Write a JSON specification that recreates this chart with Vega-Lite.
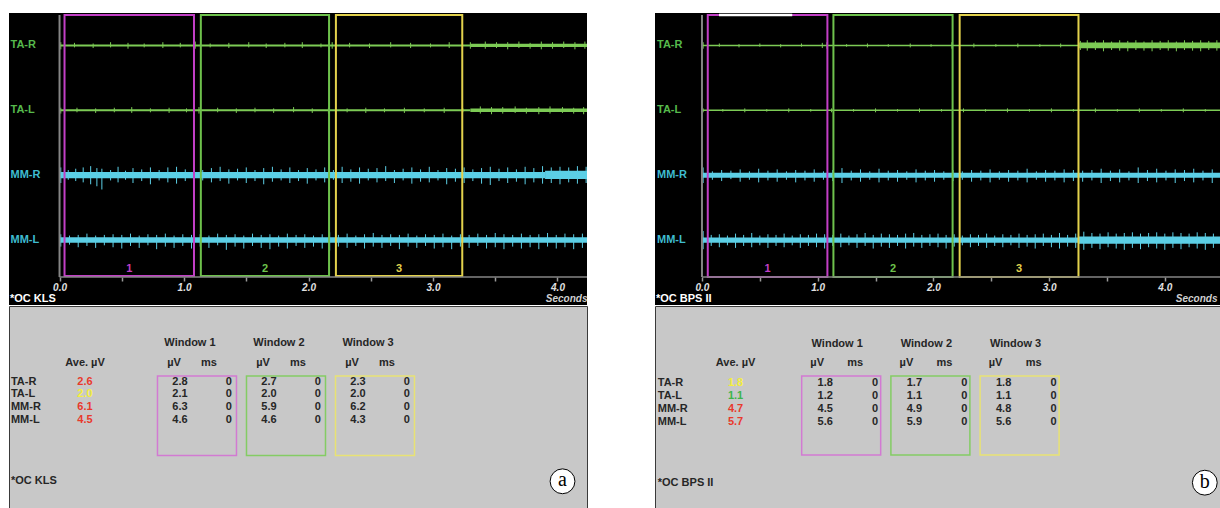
{
"$schema": "https://vega.github.io/schema/vega-lite/v6.json",
"background": "white",
"padding": {"left": 8, "top": 13, "right": 0, "bottom": 0},
"config": {"view": {"stroke": null}, "font": "Liberation Sans"},
"datasets": {
"panels": [{"p": "a", "subject": "*OC KLS"}, {"p": "b", "subject": "*OC BPS II"}],
"win": [
{"p": "a", "w": 1, "name": "Window 1", "t0": 0.04, "t1": 1.08},
{"p": "a", "w": 2, "name": "Window 2", "t0": 1.135, "t1": 2.165},
{"p": "a", "w": 3, "name": "Window 3", "t0": 2.22, "t1": 3.235},
{"p": "b", "w": 1, "name": "Window 1", "t0": 0.05, "t1": 1.084},
{"p": "b", "w": 2, "name": "Window 2", "t0": 1.136, "t1": 2.166},
{"p": "b", "w": 3, "name": "Window 3", "t0": 2.227, "t1": 3.254}],
"env": [
{"p": "a", "c": "TA-R", "t0": 0, "t1": 3.3, "lo": 3.985, "hi": 4.015},
{"p": "a", "c": "TA-R", "t0": 3.3, "t1": 4.237, "lo": 3.975, "hi": 4.027},
{"p": "a", "c": "TA-L", "t0": 0, "t1": 3.3, "lo": 2.985, "hi": 3.015},
{"p": "a", "c": "TA-L", "t0": 3.3, "t1": 4.237, "lo": 2.975, "hi": 3.027},
{"p": "a", "c": "MM-R", "t0": 0, "t1": 3.9, "lo": 1.952, "hi": 2.05},
{"p": "a", "c": "MM-R", "t0": 3.9, "t1": 4.237, "lo": 1.94, "hi": 2.07},
{"p": "a", "c": "MM-L", "t0": 0, "t1": 4.237, "lo": 0.958, "hi": 1.045},
{"p": "b", "c": "TA-R", "t0": 0, "t1": 3.26, "lo": 3.988, "hi": 4.012},
{"p": "b", "c": "TA-R", "t0": 3.26, "t1": 4.503, "lo": 3.955, "hi": 4.045},
{"p": "b", "c": "TA-L", "t0": 0, "t1": 4.503, "lo": 2.988, "hi": 3.012},
{"p": "b", "c": "MM-R", "t0": 0, "t1": 4.503, "lo": 1.96, "hi": 2.04},
{"p": "b", "c": "MM-L", "t0": 0, "t1": 3.25, "lo": 0.958, "hi": 1.042},
{"p": "b", "c": "MM-L", "t0": 3.25, "t1": 4.503, "lo": 0.945, "hi": 1.055}],
"sa": [
{"c":"TA-R","t":0.01,"lo":3.94,"hi":4.05},{"c":"TA-R","t":0.12,"lo":3.97,"hi":4.04},{"c":"TA-R","t":0.27,"lo":3.96,"hi":4.03},{"c":"TA-R","t":0.41,"lo":3.97,"hi":4.05},{"c":"TA-R","t":0.55,"lo":3.95,"hi":4.04},{"c":"TA-R","t":0.68,"lo":3.97,"hi":4.03},{"c":"TA-R","t":0.83,"lo":3.96,"hi":4.05},{"c":"TA-R","t":0.97,"lo":3.97,"hi":4.04},{"c":"TA-R","t":1.09,"lo":3.95,"hi":4.06},{"c":"TA-R","t":1.21,"lo":3.97,"hi":4.03},{"c":"TA-R","t":1.36,"lo":3.96,"hi":4.04},{"c":"TA-R","t":1.52,"lo":3.97,"hi":4.05},{"c":"TA-R","t":1.66,"lo":3.96,"hi":4.03},{"c":"TA-R","t":1.81,"lo":3.97,"hi":4.04},{"c":"TA-R","t":1.95,"lo":3.96,"hi":4.05},{"c":"TA-R","t":2.10,"lo":3.97,"hi":4.03},{"c":"TA-R","t":2.19,"lo":3.95,"hi":4.05},{"c":"TA-R","t":2.33,"lo":3.97,"hi":4.04},{"c":"TA-R","t":2.49,"lo":3.96,"hi":4.03},{"c":"TA-R","t":2.66,"lo":3.97,"hi":4.05},{"c":"TA-R","t":2.82,"lo":3.96,"hi":4.04},{"c":"TA-R","t":2.98,"lo":3.97,"hi":4.03},{"c":"TA-R","t":3.13,"lo":3.96,"hi":4.05},{"c":"TA-R","t":3.30,"lo":3.95,"hi":4.05},{"c":"TA-R","t":3.42,"lo":3.95,"hi":4.06},{"c":"TA-R","t":3.51,"lo":3.96,"hi":4.05},{"c":"TA-R","t":3.60,"lo":3.94,"hi":4.05},{"c":"TA-R","t":3.69,"lo":3.96,"hi":4.06},{"c":"TA-R","t":3.78,"lo":3.95,"hi":4.04},{"c":"TA-R","t":3.87,"lo":3.94,"hi":4.06},{"c":"TA-R","t":3.96,"lo":3.95,"hi":4.05},{"c":"TA-R","t":4.05,"lo":3.96,"hi":4.06},{"c":"TA-R","t":4.14,"lo":3.94,"hi":4.05},{"c":"TA-R","t":4.22,"lo":3.95,"hi":4.06},
{"c":"TA-L","t":0.01,"lo":2.95,"hi":3.04},{"c":"TA-L","t":0.14,"lo":2.97,"hi":3.04},{"c":"TA-L","t":0.29,"lo":2.96,"hi":3.03},{"c":"TA-L","t":0.44,"lo":2.97,"hi":3.04},{"c":"TA-L","t":0.58,"lo":2.96,"hi":3.05},{"c":"TA-L","t":0.73,"lo":2.97,"hi":3.03},{"c":"TA-L","t":0.88,"lo":2.96,"hi":3.04},{"c":"TA-L","t":1.02,"lo":2.97,"hi":3.03},{"c":"TA-L","t":1.12,"lo":2.95,"hi":3.05},{"c":"TA-L","t":1.27,"lo":2.97,"hi":3.04},{"c":"TA-L","t":1.42,"lo":2.96,"hi":3.03},{"c":"TA-L","t":1.57,"lo":2.97,"hi":3.04},{"c":"TA-L","t":1.72,"lo":2.96,"hi":3.03},{"c":"TA-L","t":1.88,"lo":2.97,"hi":3.05},{"c":"TA-L","t":2.03,"lo":2.96,"hi":3.03},{"c":"TA-L","t":2.16,"lo":2.95,"hi":3.04},{"c":"TA-L","t":2.31,"lo":2.97,"hi":3.03},{"c":"TA-L","t":2.46,"lo":2.96,"hi":3.04},{"c":"TA-L","t":2.61,"lo":2.97,"hi":3.03},{"c":"TA-L","t":2.77,"lo":2.96,"hi":3.04},{"c":"TA-L","t":2.93,"lo":2.97,"hi":3.03},{"c":"TA-L","t":3.09,"lo":2.96,"hi":3.04},{"c":"TA-L","t":3.24,"lo":2.97,"hi":3.03},{"c":"TA-L","t":3.38,"lo":2.95,"hi":3.06},{"c":"TA-L","t":3.47,"lo":2.94,"hi":3.05},{"c":"TA-L","t":3.56,"lo":2.95,"hi":3.05},{"c":"TA-L","t":3.66,"lo":2.96,"hi":3.06},{"c":"TA-L","t":3.75,"lo":2.95,"hi":3.04},{"c":"TA-L","t":3.85,"lo":2.94,"hi":3.05},{"c":"TA-L","t":3.94,"lo":2.95,"hi":3.06},{"c":"TA-L","t":4.04,"lo":2.96,"hi":3.05},{"c":"TA-L","t":4.13,"lo":2.95,"hi":3.04},{"c":"TA-L","t":4.21,"lo":2.94,"hi":3.05},
{"c":"MM-R","t":0.01,"lo":1.88,"hi":2.12},{"c":"MM-R","t":0.07,"lo":1.93,"hi":2.08},{"c":"MM-R","t":0.13,"lo":1.91,"hi":2.10},{"c":"MM-R","t":0.19,"lo":1.89,"hi":2.12},{"c":"MM-R","t":0.25,"lo":1.86,"hi":2.14},{"c":"MM-R","t":0.30,"lo":1.83,"hi":2.11},{"c":"MM-R","t":0.34,"lo":1.78,"hi":2.10},{"c":"MM-R","t":0.41,"lo":1.92,"hi":2.08},{"c":"MM-R","t":0.47,"lo":1.89,"hi":2.13},{"c":"MM-R","t":0.53,"lo":1.93,"hi":2.07},{"c":"MM-R","t":0.59,"lo":1.88,"hi":2.11},{"c":"MM-R","t":0.66,"lo":1.91,"hi":2.09},{"c":"MM-R","t":0.73,"lo":1.86,"hi":2.12},{"c":"MM-R","t":0.80,"lo":1.92,"hi":2.08},{"c":"MM-R","t":0.87,"lo":1.89,"hi":2.12},{"c":"MM-R","t":0.94,"lo":1.87,"hi":2.13},{"c":"MM-R","t":1.01,"lo":1.91,"hi":2.09},{"c":"MM-R","t":1.08,"lo":1.88,"hi":2.12},{"c":"MM-R","t":1.15,"lo":1.92,"hi":2.08},{"c":"MM-R","t":1.22,"lo":1.89,"hi":2.11},{"c":"MM-R","t":1.29,"lo":1.91,"hi":2.13},{"c":"MM-R","t":1.36,"lo":1.87,"hi":2.09},{"c":"MM-R","t":1.43,"lo":1.92,"hi":2.10},{"c":"MM-R","t":1.50,"lo":1.88,"hi":2.12},{"c":"MM-R","t":1.57,"lo":1.91,"hi":2.08},{"c":"MM-R","t":1.64,"lo":1.86,"hi":2.11},{"c":"MM-R","t":1.71,"lo":1.90,"hi":2.13},{"c":"MM-R","t":1.78,"lo":1.92,"hi":2.09},{"c":"MM-R","t":1.85,"lo":1.88,"hi":2.12},{"c":"MM-R","t":1.92,"lo":1.91,"hi":2.08},{"c":"MM-R","t":1.99,"lo":1.87,"hi":2.11},{"c":"MM-R","t":2.06,"lo":1.92,"hi":2.09},{"c":"MM-R","t":2.13,"lo":1.89,"hi":2.12},{"c":"MM-R","t":2.20,"lo":1.93,"hi":2.08},{"c":"MM-R","t":2.27,"lo":1.88,"hi":2.13},{"c":"MM-R","t":2.34,"lo":1.90,"hi":2.09},{"c":"MM-R","t":2.41,"lo":1.87,"hi":2.12},{"c":"MM-R","t":2.48,"lo":1.92,"hi":2.10},{"c":"MM-R","t":2.55,"lo":1.89,"hi":2.11},{"c":"MM-R","t":2.62,"lo":1.91,"hi":2.14},{"c":"MM-R","t":2.69,"lo":1.88,"hi":2.08},{"c":"MM-R","t":2.76,"lo":1.92,"hi":2.10},{"c":"MM-R","t":2.83,"lo":1.87,"hi":2.12},{"c":"MM-R","t":2.90,"lo":1.90,"hi":2.09},{"c":"MM-R","t":2.97,"lo":1.89,"hi":2.13},{"c":"MM-R","t":3.04,"lo":1.92,"hi":2.08},{"c":"MM-R","t":3.11,"lo":1.86,"hi":2.11},{"c":"MM-R","t":3.18,"lo":1.90,"hi":2.10},{"c":"MM-R","t":3.25,"lo":1.88,"hi":2.12},{"c":"MM-R","t":3.32,"lo":1.91,"hi":2.09},{"c":"MM-R","t":3.39,"lo":1.87,"hi":2.11},{"c":"MM-R","t":3.46,"lo":1.85,"hi":2.13},{"c":"MM-R","t":3.53,"lo":1.91,"hi":2.10},{"c":"MM-R","t":3.60,"lo":1.88,"hi":2.12},{"c":"MM-R","t":3.67,"lo":1.90,"hi":2.09},{"c":"MM-R","t":3.74,"lo":1.86,"hi":2.13},{"c":"MM-R","t":3.81,"lo":1.89,"hi":2.11},{"c":"MM-R","t":3.88,"lo":1.87,"hi":2.14},{"c":"MM-R","t":3.95,"lo":1.88,"hi":2.12},{"c":"MM-R","t":4.02,"lo":1.86,"hi":2.13},{"c":"MM-R","t":4.09,"lo":1.89,"hi":2.12},{"c":"MM-R","t":4.16,"lo":1.87,"hi":2.14},{"c":"MM-R","t":4.23,"lo":1.88,"hi":2.13},
{"c":"MM-L","t":0.01,"lo":0.90,"hi":1.09},{"c":"MM-L","t":0.08,"lo":0.93,"hi":1.07},{"c":"MM-L","t":0.15,"lo":0.89,"hi":1.08},{"c":"MM-L","t":0.22,"lo":0.91,"hi":1.10},{"c":"MM-L","t":0.29,"lo":0.88,"hi":1.07},{"c":"MM-L","t":0.36,"lo":0.92,"hi":1.08},{"c":"MM-L","t":0.43,"lo":0.89,"hi":1.09},{"c":"MM-L","t":0.50,"lo":0.87,"hi":1.08},{"c":"MM-L","t":0.57,"lo":0.91,"hi":1.10},{"c":"MM-L","t":0.64,"lo":0.88,"hi":1.07},{"c":"MM-L","t":0.71,"lo":0.92,"hi":1.09},{"c":"MM-L","t":0.78,"lo":0.86,"hi":1.08},{"c":"MM-L","t":0.85,"lo":0.90,"hi":1.10},{"c":"MM-L","t":0.92,"lo":0.88,"hi":1.07},{"c":"MM-L","t":0.99,"lo":0.91,"hi":1.09},{"c":"MM-L","t":1.06,"lo":0.87,"hi":1.08},{"c":"MM-L","t":1.13,"lo":0.90,"hi":1.09},{"c":"MM-L","t":1.20,"lo":0.88,"hi":1.07},{"c":"MM-L","t":1.27,"lo":0.92,"hi":1.10},{"c":"MM-L","t":1.34,"lo":0.85,"hi":1.08},{"c":"MM-L","t":1.41,"lo":0.90,"hi":1.09},{"c":"MM-L","t":1.48,"lo":0.87,"hi":1.07},{"c":"MM-L","t":1.55,"lo":0.91,"hi":1.10},{"c":"MM-L","t":1.62,"lo":0.88,"hi":1.08},{"c":"MM-L","t":1.69,"lo":0.86,"hi":1.09},{"c":"MM-L","t":1.76,"lo":0.90,"hi":1.07},{"c":"MM-L","t":1.83,"lo":0.87,"hi":1.10},{"c":"MM-L","t":1.90,"lo":0.91,"hi":1.08},{"c":"MM-L","t":1.97,"lo":0.88,"hi":1.09},{"c":"MM-L","t":2.04,"lo":0.90,"hi":1.07},{"c":"MM-L","t":2.11,"lo":0.87,"hi":1.09},{"c":"MM-L","t":2.17,"lo":0.84,"hi":1.12},{"c":"MM-L","t":2.24,"lo":0.90,"hi":1.08},{"c":"MM-L","t":2.31,"lo":0.88,"hi":1.10},{"c":"MM-L","t":2.38,"lo":0.91,"hi":1.07},{"c":"MM-L","t":2.45,"lo":0.87,"hi":1.09},{"c":"MM-L","t":2.52,"lo":0.90,"hi":1.11},{"c":"MM-L","t":2.59,"lo":0.88,"hi":1.08},{"c":"MM-L","t":2.66,"lo":0.91,"hi":1.09},{"c":"MM-L","t":2.73,"lo":0.86,"hi":1.08},{"c":"MM-L","t":2.80,"lo":0.90,"hi":1.10},{"c":"MM-L","t":2.87,"lo":0.88,"hi":1.07},{"c":"MM-L","t":2.94,"lo":0.91,"hi":1.09},{"c":"MM-L","t":3.01,"lo":0.87,"hi":1.08},{"c":"MM-L","t":3.08,"lo":0.89,"hi":1.10},{"c":"MM-L","t":3.15,"lo":0.86,"hi":1.07},{"c":"MM-L","t":3.22,"lo":0.90,"hi":1.09},{"c":"MM-L","t":3.29,"lo":0.88,"hi":1.08},{"c":"MM-L","t":3.36,"lo":0.91,"hi":1.10},{"c":"MM-L","t":3.43,"lo":0.87,"hi":1.08},{"c":"MM-L","t":3.50,"lo":0.89,"hi":1.11},{"c":"MM-L","t":3.57,"lo":0.86,"hi":1.09},{"c":"MM-L","t":3.64,"lo":0.90,"hi":1.08},{"c":"MM-L","t":3.71,"lo":0.87,"hi":1.10},{"c":"MM-L","t":3.78,"lo":0.89,"hi":1.08},{"c":"MM-L","t":3.85,"lo":0.86,"hi":1.09},{"c":"MM-L","t":3.92,"lo":0.90,"hi":1.11},{"c":"MM-L","t":3.99,"lo":0.87,"hi":1.08},{"c":"MM-L","t":4.06,"lo":0.89,"hi":1.10},{"c":"MM-L","t":4.13,"lo":0.86,"hi":1.09},{"c":"MM-L","t":4.20,"lo":0.88,"hi":1.10}],
"sb": [
{"c":"TA-R","t":0.01,"lo":3.95,"hi":4.05},{"c":"TA-R","t":0.15,"lo":3.98,"hi":4.03},{"c":"TA-R","t":0.32,"lo":3.97,"hi":4.02},{"c":"TA-R","t":0.50,"lo":3.98,"hi":4.03},{"c":"TA-R","t":0.68,"lo":3.97,"hi":4.02},{"c":"TA-R","t":0.86,"lo":3.98,"hi":4.03},{"c":"TA-R","t":1.04,"lo":3.96,"hi":4.04},{"c":"TA-R","t":1.08,"lo":3.95,"hi":4.05},{"c":"TA-R","t":1.25,"lo":3.98,"hi":4.02},{"c":"TA-R","t":1.43,"lo":3.97,"hi":4.03},{"c":"TA-R","t":1.61,"lo":3.98,"hi":4.02},{"c":"TA-R","t":1.80,"lo":3.97,"hi":4.03},{"c":"TA-R","t":1.98,"lo":3.98,"hi":4.02},{"c":"TA-R","t":2.16,"lo":3.95,"hi":4.05},{"c":"TA-R","t":2.35,"lo":3.97,"hi":4.03},{"c":"TA-R","t":2.54,"lo":3.98,"hi":4.02},{"c":"TA-R","t":2.73,"lo":3.97,"hi":4.03},{"c":"TA-R","t":2.92,"lo":3.98,"hi":4.02},{"c":"TA-R","t":3.10,"lo":3.97,"hi":4.03},{"c":"TA-R","t":3.27,"lo":3.93,"hi":4.07},{"c":"TA-R","t":3.33,"lo":3.92,"hi":4.08},{"c":"TA-R","t":3.40,"lo":3.93,"hi":4.07},{"c":"TA-R","t":3.47,"lo":3.91,"hi":4.08},{"c":"TA-R","t":3.54,"lo":3.93,"hi":4.06},{"c":"TA-R","t":3.61,"lo":3.92,"hi":4.08},{"c":"TA-R","t":3.68,"lo":3.91,"hi":4.07},{"c":"TA-R","t":3.75,"lo":3.93,"hi":4.08},{"c":"TA-R","t":3.82,"lo":3.92,"hi":4.06},{"c":"TA-R","t":3.89,"lo":3.91,"hi":4.08},{"c":"TA-R","t":3.96,"lo":3.93,"hi":4.07},{"c":"TA-R","t":4.03,"lo":3.92,"hi":4.08},{"c":"TA-R","t":4.10,"lo":3.91,"hi":4.06},{"c":"TA-R","t":4.17,"lo":3.93,"hi":4.08},{"c":"TA-R","t":4.24,"lo":3.92,"hi":4.07},{"c":"TA-R","t":4.31,"lo":3.91,"hi":4.08},{"c":"TA-R","t":4.38,"lo":3.93,"hi":4.07},{"c":"TA-R","t":4.45,"lo":3.92,"hi":4.08},
{"c":"TA-L","t":0.01,"lo":2.97,"hi":3.03},{"c":"TA-L","t":0.18,"lo":2.98,"hi":3.02},{"c":"TA-L","t":0.37,"lo":2.97,"hi":3.03},{"c":"TA-L","t":0.56,"lo":2.98,"hi":3.02},{"c":"TA-L","t":0.75,"lo":2.97,"hi":3.03},{"c":"TA-L","t":0.94,"lo":2.98,"hi":3.02},{"c":"TA-L","t":1.12,"lo":2.97,"hi":3.03},{"c":"TA-L","t":1.31,"lo":2.98,"hi":3.02},{"c":"TA-L","t":1.50,"lo":2.97,"hi":3.03},{"c":"TA-L","t":1.69,"lo":2.98,"hi":3.02},{"c":"TA-L","t":1.88,"lo":2.97,"hi":3.03},{"c":"TA-L","t":2.07,"lo":2.98,"hi":3.02},{"c":"TA-L","t":2.26,"lo":2.97,"hi":3.03},{"c":"TA-L","t":2.45,"lo":2.98,"hi":3.02},{"c":"TA-L","t":2.64,"lo":2.97,"hi":3.03},{"c":"TA-L","t":2.83,"lo":2.98,"hi":3.02},{"c":"TA-L","t":3.02,"lo":2.97,"hi":3.03},{"c":"TA-L","t":3.21,"lo":2.98,"hi":3.02},{"c":"TA-L","t":3.40,"lo":2.97,"hi":3.03},{"c":"TA-L","t":3.59,"lo":2.98,"hi":3.02},{"c":"TA-L","t":3.78,"lo":2.97,"hi":3.03},{"c":"TA-L","t":3.97,"lo":2.98,"hi":3.02},{"c":"TA-L","t":4.16,"lo":2.97,"hi":3.03},{"c":"TA-L","t":4.35,"lo":2.98,"hi":3.02},
{"c":"MM-R","t":0.01,"lo":1.88,"hi":2.12},{"c":"MM-R","t":0.09,"lo":1.93,"hi":2.06},{"c":"MM-R","t":0.17,"lo":1.91,"hi":2.08},{"c":"MM-R","t":0.25,"lo":1.94,"hi":2.07},{"c":"MM-R","t":0.33,"lo":1.90,"hi":2.09},{"c":"MM-R","t":0.41,"lo":1.93,"hi":2.06},{"c":"MM-R","t":0.49,"lo":1.89,"hi":2.10},{"c":"MM-R","t":0.57,"lo":1.92,"hi":2.07},{"c":"MM-R","t":0.65,"lo":1.90,"hi":2.09},{"c":"MM-R","t":0.73,"lo":1.93,"hi":2.06},{"c":"MM-R","t":0.81,"lo":1.89,"hi":2.08},{"c":"MM-R","t":0.89,"lo":1.92,"hi":2.07},{"c":"MM-R","t":0.97,"lo":1.90,"hi":2.09},{"c":"MM-R","t":1.05,"lo":1.93,"hi":2.06},{"c":"MM-R","t":1.13,"lo":1.91,"hi":2.08},{"c":"MM-R","t":1.21,"lo":1.88,"hi":2.11},{"c":"MM-R","t":1.29,"lo":1.92,"hi":2.07},{"c":"MM-R","t":1.37,"lo":1.90,"hi":2.09},{"c":"MM-R","t":1.45,"lo":1.93,"hi":2.06},{"c":"MM-R","t":1.53,"lo":1.89,"hi":2.10},{"c":"MM-R","t":1.61,"lo":1.92,"hi":2.07},{"c":"MM-R","t":1.69,"lo":1.90,"hi":2.08},{"c":"MM-R","t":1.77,"lo":1.93,"hi":2.06},{"c":"MM-R","t":1.85,"lo":1.89,"hi":2.09},{"c":"MM-R","t":1.93,"lo":1.92,"hi":2.07},{"c":"MM-R","t":2.01,"lo":1.90,"hi":2.08},{"c":"MM-R","t":2.09,"lo":1.93,"hi":2.06},{"c":"MM-R","t":2.17,"lo":1.91,"hi":2.08},{"c":"MM-R","t":2.25,"lo":1.93,"hi":2.06},{"c":"MM-R","t":2.33,"lo":1.90,"hi":2.08},{"c":"MM-R","t":2.41,"lo":1.92,"hi":2.07},{"c":"MM-R","t":2.49,"lo":1.89,"hi":2.09},{"c":"MM-R","t":2.57,"lo":1.93,"hi":2.06},{"c":"MM-R","t":2.65,"lo":1.90,"hi":2.08},{"c":"MM-R","t":2.73,"lo":1.92,"hi":2.07},{"c":"MM-R","t":2.81,"lo":1.89,"hi":2.10},{"c":"MM-R","t":2.89,"lo":1.93,"hi":2.06},{"c":"MM-R","t":2.97,"lo":1.90,"hi":2.08},{"c":"MM-R","t":3.05,"lo":1.92,"hi":2.07},{"c":"MM-R","t":3.13,"lo":1.89,"hi":2.09},{"c":"MM-R","t":3.21,"lo":1.91,"hi":2.08},{"c":"MM-R","t":3.29,"lo":1.90,"hi":2.07},{"c":"MM-R","t":3.37,"lo":1.92,"hi":2.08},{"c":"MM-R","t":3.45,"lo":1.88,"hi":2.10},{"c":"MM-R","t":3.53,"lo":1.91,"hi":2.07},{"c":"MM-R","t":3.61,"lo":1.89,"hi":2.09},{"c":"MM-R","t":3.69,"lo":1.92,"hi":2.06},{"c":"MM-R","t":3.77,"lo":1.88,"hi":2.12},{"c":"MM-R","t":3.85,"lo":1.91,"hi":2.08},{"c":"MM-R","t":3.93,"lo":1.89,"hi":2.10},{"c":"MM-R","t":4.01,"lo":1.92,"hi":2.07},{"c":"MM-R","t":4.09,"lo":1.88,"hi":2.09},{"c":"MM-R","t":4.17,"lo":1.91,"hi":2.08},{"c":"MM-R","t":4.25,"lo":1.89,"hi":2.10},{"c":"MM-R","t":4.33,"lo":1.92,"hi":2.07},{"c":"MM-R","t":4.41,"lo":1.88,"hi":2.09},{"c":"MM-R","t":4.49,"lo":1.91,"hi":2.08},
{"c":"MM-L","t":0.01,"lo":0.86,"hi":1.14},{"c":"MM-L","t":0.08,"lo":0.91,"hi":1.08},{"c":"MM-L","t":0.15,"lo":0.89,"hi":1.09},{"c":"MM-L","t":0.22,"lo":0.92,"hi":1.07},{"c":"MM-L","t":0.29,"lo":0.88,"hi":1.10},{"c":"MM-L","t":0.36,"lo":0.91,"hi":1.08},{"c":"MM-L","t":0.43,"lo":0.89,"hi":1.11},{"c":"MM-L","t":0.50,"lo":0.92,"hi":1.07},{"c":"MM-L","t":0.57,"lo":0.88,"hi":1.09},{"c":"MM-L","t":0.64,"lo":0.91,"hi":1.08},{"c":"MM-L","t":0.71,"lo":0.89,"hi":1.10},{"c":"MM-L","t":0.78,"lo":0.92,"hi":1.07},{"c":"MM-L","t":0.85,"lo":0.88,"hi":1.09},{"c":"MM-L","t":0.92,"lo":0.91,"hi":1.08},{"c":"MM-L","t":0.99,"lo":0.89,"hi":1.10},{"c":"MM-L","t":1.06,"lo":0.87,"hi":1.09},{"c":"MM-L","t":1.13,"lo":0.91,"hi":1.08},{"c":"MM-L","t":1.20,"lo":0.89,"hi":1.10},{"c":"MM-L","t":1.27,"lo":0.92,"hi":1.07},{"c":"MM-L","t":1.34,"lo":0.88,"hi":1.09},{"c":"MM-L","t":1.41,"lo":0.91,"hi":1.11},{"c":"MM-L","t":1.48,"lo":0.87,"hi":1.08},{"c":"MM-L","t":1.55,"lo":0.90,"hi":1.10},{"c":"MM-L","t":1.62,"lo":0.88,"hi":1.09},{"c":"MM-L","t":1.69,"lo":0.91,"hi":1.08},{"c":"MM-L","t":1.76,"lo":0.87,"hi":1.10},{"c":"MM-L","t":1.83,"lo":0.90,"hi":1.11},{"c":"MM-L","t":1.90,"lo":0.88,"hi":1.08},{"c":"MM-L","t":1.97,"lo":0.91,"hi":1.09},{"c":"MM-L","t":2.04,"lo":0.89,"hi":1.10},{"c":"MM-L","t":2.11,"lo":0.87,"hi":1.08},{"c":"MM-L","t":2.18,"lo":0.90,"hi":1.09},{"c":"MM-L","t":2.25,"lo":0.92,"hi":1.07},{"c":"MM-L","t":2.32,"lo":0.89,"hi":1.09},{"c":"MM-L","t":2.39,"lo":0.91,"hi":1.08},{"c":"MM-L","t":2.46,"lo":0.88,"hi":1.10},{"c":"MM-L","t":2.53,"lo":0.91,"hi":1.07},{"c":"MM-L","t":2.60,"lo":0.89,"hi":1.09},{"c":"MM-L","t":2.67,"lo":0.92,"hi":1.08},{"c":"MM-L","t":2.74,"lo":0.88,"hi":1.10},{"c":"MM-L","t":2.81,"lo":0.90,"hi":1.08},{"c":"MM-L","t":2.88,"lo":0.87,"hi":1.09},{"c":"MM-L","t":2.95,"lo":0.91,"hi":1.10},{"c":"MM-L","t":3.02,"lo":0.89,"hi":1.08},{"c":"MM-L","t":3.09,"lo":0.87,"hi":1.11},{"c":"MM-L","t":3.16,"lo":0.90,"hi":1.08},{"c":"MM-L","t":3.23,"lo":0.88,"hi":1.10},{"c":"MM-L","t":3.30,"lo":0.85,"hi":1.13},{"c":"MM-L","t":3.37,"lo":0.88,"hi":1.11},{"c":"MM-L","t":3.44,"lo":0.86,"hi":1.10},{"c":"MM-L","t":3.51,"lo":0.89,"hi":1.12},{"c":"MM-L","t":3.58,"lo":0.87,"hi":1.10},{"c":"MM-L","t":3.65,"lo":0.85,"hi":1.11},{"c":"MM-L","t":3.72,"lo":0.88,"hi":1.12},{"c":"MM-L","t":3.79,"lo":0.86,"hi":1.10},{"c":"MM-L","t":3.86,"lo":0.89,"hi":1.11},{"c":"MM-L","t":3.93,"lo":0.87,"hi":1.12},{"c":"MM-L","t":4.00,"lo":0.85,"hi":1.10},{"c":"MM-L","t":4.07,"lo":0.88,"hi":1.12},{"c":"MM-L","t":4.14,"lo":0.86,"hi":1.11},{"c":"MM-L","t":4.21,"lo":0.89,"hi":1.10},{"c":"MM-L","t":4.28,"lo":0.87,"hi":1.12},{"c":"MM-L","t":4.35,"lo":0.85,"hi":1.11},{"c":"MM-L","t":4.42,"lo":0.88,"hi":1.10},{"c":"MM-L","t":4.49,"lo":0.86,"hi":1.12}],
"tab": [
{"p":"a","m":"TA-R","r":1,"w":1,"uv":2.8,"ms":0},{"p":"a","m":"TA-R","r":1,"w":2,"uv":2.7,"ms":0},{"p":"a","m":"TA-R","r":1,"w":3,"uv":2.3,"ms":0},
{"p":"a","m":"TA-L","r":2,"w":1,"uv":2.1,"ms":0},{"p":"a","m":"TA-L","r":2,"w":2,"uv":2.0,"ms":0},{"p":"a","m":"TA-L","r":2,"w":3,"uv":2.0,"ms":0},
{"p":"a","m":"MM-R","r":3,"w":1,"uv":6.3,"ms":0},{"p":"a","m":"MM-R","r":3,"w":2,"uv":5.9,"ms":0},{"p":"a","m":"MM-R","r":3,"w":3,"uv":6.2,"ms":0},
{"p":"a","m":"MM-L","r":4,"w":1,"uv":4.6,"ms":0},{"p":"a","m":"MM-L","r":4,"w":2,"uv":4.6,"ms":0},{"p":"a","m":"MM-L","r":4,"w":3,"uv":4.3,"ms":0},
{"p":"b","m":"TA-R","r":1,"w":1,"uv":1.8,"ms":0},{"p":"b","m":"TA-R","r":1,"w":2,"uv":1.7,"ms":0},{"p":"b","m":"TA-R","r":1,"w":3,"uv":1.8,"ms":0},
{"p":"b","m":"TA-L","r":2,"w":1,"uv":1.2,"ms":0},{"p":"b","m":"TA-L","r":2,"w":2,"uv":1.1,"ms":0},{"p":"b","m":"TA-L","r":2,"w":3,"uv":1.1,"ms":0},
{"p":"b","m":"MM-R","r":3,"w":1,"uv":4.5,"ms":0},{"p":"b","m":"MM-R","r":3,"w":2,"uv":4.9,"ms":0},{"p":"b","m":"MM-R","r":3,"w":3,"uv":4.8,"ms":0},
{"p":"b","m":"MM-L","r":4,"w":1,"uv":5.6,"ms":0},{"p":"b","m":"MM-L","r":4,"w":2,"uv":5.9,"ms":0},{"p":"b","m":"MM-L","r":4,"w":3,"uv":5.6,"ms":0}],
"ave": [
{"p":"a","m":"TA-R","r":1,"ave":2.6,"st":"high"},{"p":"a","m":"TA-L","r":2,"ave":2.0,"st":"borderline"},{"p":"a","m":"MM-R","r":3,"ave":6.1,"st":"high"},{"p":"a","m":"MM-L","r":4,"ave":4.5,"st":"high"},
{"p":"b","m":"TA-R","r":1,"ave":1.8,"st":"borderline"},{"p":"b","m":"TA-L","r":2,"ave":1.1,"st":"normal"},{"p":"b","m":"MM-R","r":3,"ave":4.7,"st":"high"},{"p":"b","m":"MM-L","r":4,"ave":5.7,"st":"high"}]
},
"hconcat": [
{"vconcat": [
{"width": 578, "height": 292, "view": {"fill": "#000000", "stroke": null},
"layer": [
{"data": {"name": "env"}, "transform": [{"filter": "datum.p=='a'"}], "mark": {"type": "rect"},
"encoding": {"x": {"field": "t0", "type": "quantitative", "scale": {"domain": [-0.406, 4.237], "nice": false, "zero": false},
"axis": {"orient": "bottom", "offset": -28, "domain": false, "grid": false, "values": [0, 0.5, 1, 1.5, 2, 2.5, 3, 3.5, 4], "tickColor": "#9a9a9a", "tickSize": 4, "tickWidth": 1.5, "labelExpr": "datum.value % 1 === 0 ? format(datum.value, '.1f') : ''", "labelColor": "#e0e0e0", "labelFont": "Liberation Sans", "labelFontSize": 10, "labelFontStyle": "italic", "labelFontWeight": "bold", "labelPadding": 1, "labelFlush": false, "labelOverlap": false, "title": "Seconds", "titleColor": "#d0d0d0", "titleFont": "Liberation Sans", "titleFontSize": 10, "titleFontStyle": "italic", "titleFontWeight": "bold", "titleAnchor": "end", "titleAlign": "right", "titlePadding": 1}},
"x2": {"field": "t1"},
"y": {"field": "lo", "type": "quantitative", "scale": {"domain": [0, 4.5], "nice": false, "zero": false}, "axis": null}, "y2": {"field": "hi"},
"color": {"condition": {"test": "indexof(datum.c,'TA')==0", "value": "#7dcb55"}, "value": "#5ccfe6"}}},
{"data": {"name": "sa"}, "mark": {"type": "rule", "strokeWidth": 1},
"encoding": {"x": {"field": "t", "type": "quantitative", "scale": {"domain": [-0.406, 4.237], "nice": false, "zero": false}},
"y": {"field": "lo", "type": "quantitative", "scale": {"domain": [0, 4.5], "nice": false, "zero": false}, "axis": null}, "y2": {"field": "hi"},
"color": {"condition": {"test": "indexof(datum.c,'TA')==0", "value": "#7dcb55"}, "value": "#5ccfe6"}}},
{"data": {"name": "win"}, "transform": [{"filter": "datum.p=='a'"}], "mark": {"type": "rect", "fillOpacity": 0, "strokeWidth": 2},
"encoding": {"x": {"field": "t0", "type": "quantitative", "scale": {"domain": [-0.406, 4.237], "nice": false, "zero": false}}, "x2": {"field": "t1"},
"y": {"datum": 0.447, "type": "quantitative", "scale": {"domain": [0, 4.5], "nice": false, "zero": false}, "axis": null}, "y2": {"datum": 4.47},
"stroke": {"condition": [{"test": "datum.w==1", "value": "#c23fc6"}, {"test": "datum.w==2", "value": "#6ec24c"}], "value": "#e3d24c"}}},
{"data": {"name": "win"}, "transform": [{"filter": "datum.p=='a'"}, {"fold": ["t0", "t1"], "as": ["k", "tv"]}, {"aggregate": [{"op": "mean", "field": "tv", "as": "tm"}], "groupby": ["w"]}],
"mark": {"type": "text", "fontSize": 11, "fontWeight": "bold", "baseline": "middle"},
"encoding": {"x": {"field": "tm", "type": "quantitative", "scale": {"domain": [-0.406, 4.237], "nice": false, "zero": false}},
"y": {"datum": 0.555, "type": "quantitative", "scale": {"domain": [0, 4.5], "nice": false, "zero": false}, "axis": null},
"text": {"field": "w", "type": "nominal"},
"color": {"condition": [{"test": "datum.w==1", "value": "#c23fc6"}, {"test": "datum.w==2", "value": "#6ec24c"}], "value": "#e3d24c"}}},
{"data": {"name": "panels"}, "transform": [{"filter": "datum.p=='a'"}], "mark": {"type": "rule", "color": "#858585", "strokeWidth": 2},
"encoding": {"x": {"datum": 0, "type": "quantitative", "scale": {"domain": [-0.406, 4.237], "nice": false, "zero": false}},
"y": {"datum": 0.432, "type": "quantitative", "scale": {"domain": [0, 4.5], "nice": false, "zero": false}, "axis": null}, "y2": {"datum": 4.47}}},
{"data": {"name": "panels"}, "transform": [{"filter": "datum.p=='a'"}], "mark": {"type": "rule", "color": "#858585", "strokeWidth": 1.5},
"encoding": {"x": {"datum": 0, "type": "quantitative", "scale": {"domain": [-0.406, 4.237], "nice": false, "zero": false}},
"x2": {"datum": 4.237},
"y": {"datum": 0.432, "type": "quantitative", "scale": {"domain": [0, 4.5], "nice": false, "zero": false}, "axis": null}}},
{"data": {"name": "env"}, "transform": [{"filter": "datum.p=='a'"}, {"fold": ["lo", "hi"], "as": ["k", "yv"]}, {"aggregate": [{"op": "mean", "field": "yv", "as": "yc"}], "groupby": ["c"]}],
"mark": {"type": "text", "align": "left", "dx": 1.5, "fontSize": 11, "fontWeight": "bold", "baseline": "middle"},
"encoding": {"x": {"datum": -0.406, "type": "quantitative", "scale": {"domain": [-0.406, 4.237], "nice": false, "zero": false}},
"y": {"field": "yc", "type": "quantitative", "scale": {"domain": [0, 4.5], "nice": false, "zero": false}, "axis": null},
"text": {"field": "c", "type": "nominal"},
"color": {"condition": {"test": "indexof(datum.c,'TA')==0", "value": "#56b94c"}, "value": "#3fbccf"}}},
{"data": {"name": "panels"}, "transform": [{"filter": "datum.p=='a'"}], "mark": {"type": "text", "align": "left", "dx": 1, "fontSize": 11, "fontWeight": "bold", "baseline": "middle", "color": "#ffffff"},
"encoding": {"x": {"datum": -0.406, "type": "quantitative", "scale": {"domain": [-0.406, 4.237], "nice": false, "zero": false}},
"y": {"datum": 0.085, "type": "quantitative", "scale": {"domain": [0, 4.5], "nice": false, "zero": false}, "axis": null},
"text": {"field": "subject", "type": "nominal"}}}
]},
{"width": 578, "height": 203, "view": {"fill": "#c8c8c8", "stroke": "#3a3a3a", "strokeWidth": 1},
"layer": [
{"data": {"name": "win"}, "transform": [{"filter": "datum.p=='a'"}], "mark": {"type": "rect", "width": 79, "fillOpacity": 0, "strokeWidth": 1.5},
"encoding": {"x": {"field": "w", "type": "quantitative", "scale": {"domain": [-1.112, 5.382], "nice": false, "zero": false}, "axis": null},
"y": {"datum": 0.56, "type": "quantitative", "scale": {"domain": [-4.93, 10.97], "reverse": true, "nice": false, "zero": false}, "axis": null}, "y2": {"datum": 6.77},
"stroke": {"condition": [{"test": "datum.w==1", "value": "#d27ad2"}, {"test": "datum.w==2", "value": "#84cc64"}], "value": "#e8e274"}}},
{"data": {"name": "win"}, "transform": [{"filter": "datum.p=='a'"}], "mark": {"type": "text", "dx": -7, "fontSize": 11, "fontWeight": "bold", "baseline": "middle", "color": "#262626"},
"encoding": {"x": {"field": "w", "type": "quantitative", "scale": {"domain": [-1.112, 5.382], "nice": false, "zero": false}, "axis": null},
"y": {"datum": -2.05, "type": "quantitative", "scale": {"domain": [-4.93, 10.97], "reverse": true, "nice": false, "zero": false}, "axis": null},
"text": {"field": "name", "type": "nominal"}}},
{"data": {"name": "win"}, "transform": [{"filter": "datum.p=='a'"}], "mark": {"type": "text", "dx": -23, "fontSize": 11, "fontWeight": "bold", "baseline": "middle", "color": "#262626"},
"encoding": {"x": {"field": "w", "type": "quantitative", "scale": {"domain": [-1.112, 5.382], "nice": false, "zero": false}, "axis": null},
"y": {"datum": -0.5, "type": "quantitative", "scale": {"domain": [-4.93, 10.97], "reverse": true, "nice": false, "zero": false}, "axis": null},
"text": {"value": "µV"}}},
{"data": {"name": "win"}, "transform": [{"filter": "datum.p=='a'"}], "mark": {"type": "text", "dx": 12, "fontSize": 11, "fontWeight": "bold", "baseline": "middle", "color": "#262626"},
"encoding": {"x": {"field": "w", "type": "quantitative", "scale": {"domain": [-1.112, 5.382], "nice": false, "zero": false}, "axis": null},
"y": {"datum": -0.5, "type": "quantitative", "scale": {"domain": [-4.93, 10.97], "reverse": true, "nice": false, "zero": false}, "axis": null},
"text": {"value": "ms"}}},
{"data": {"name": "tab"}, "transform": [{"filter": "datum.p=='a'"}], "mark": {"type": "text", "dx": -17, "fontSize": 11, "fontWeight": "bold", "baseline": "middle", "color": "#262626"},
"encoding": {"x": {"field": "w", "type": "quantitative", "scale": {"domain": [-1.112, 5.382], "nice": false, "zero": false}, "axis": null},
"y": {"field": "r", "type": "quantitative", "scale": {"domain": [-4.93, 10.97], "reverse": true, "nice": false, "zero": false}, "axis": null},
"text": {"field": "uv", "type": "quantitative", "format": ".1f"}}},
{"data": {"name": "tab"}, "transform": [{"filter": "datum.p=='a'"}], "mark": {"type": "text", "align": "right", "dx": 35, "fontSize": 11, "fontWeight": "bold", "baseline": "middle", "color": "#262626"},
"encoding": {"x": {"field": "w", "type": "quantitative", "scale": {"domain": [-1.112, 5.382], "nice": false, "zero": false}, "axis": null},
"y": {"field": "r", "type": "quantitative", "scale": {"domain": [-4.93, 10.97], "reverse": true, "nice": false, "zero": false}, "axis": null},
"text": {"field": "ms", "type": "quantitative", "format": "d"}}},
{"data": {"name": "ave"}, "transform": [{"filter": "datum.p=='a'"}], "mark": {"type": "text", "align": "left", "fontSize": 11, "fontWeight": "bold", "baseline": "middle", "color": "#262626"},
"encoding": {"x": {"datum": -1.09, "type": "quantitative", "scale": {"domain": [-1.112, 5.382], "nice": false, "zero": false}, "axis": null},
"y": {"field": "r", "type": "quantitative", "scale": {"domain": [-4.93, 10.97], "reverse": true, "nice": false, "zero": false}, "axis": null},
"text": {"field": "m", "type": "nominal"}}},
{"data": {"name": "panels"}, "transform": [{"filter": "datum.p=='a'"}], "mark": {"type": "text", "fontSize": 11, "fontWeight": "bold", "baseline": "middle", "color": "#262626"},
"encoding": {"x": {"datum": -0.258, "type": "quantitative", "scale": {"domain": [-1.112, 5.382], "nice": false, "zero": false}, "axis": null},
"y": {"datum": -0.5, "type": "quantitative", "scale": {"domain": [-4.93, 10.97], "reverse": true, "nice": false, "zero": false}, "axis": null},
"text": {"value": "Ave. µV"}}},
{"data": {"name": "ave"}, "transform": [{"filter": "datum.p=='a'"}], "mark": {"type": "text", "fontSize": 11, "fontWeight": "bold", "baseline": "middle"},
"encoding": {"x": {"datum": -0.258, "type": "quantitative", "scale": {"domain": [-1.112, 5.382], "nice": false, "zero": false}, "axis": null},
"y": {"field": "r", "type": "quantitative", "scale": {"domain": [-4.93, 10.97], "reverse": true, "nice": false, "zero": false}, "axis": null},
"text": {"field": "ave", "type": "quantitative", "format": ".1f"},
"color": {"condition": [{"test": "datum.st=='high'", "value": "#e8392c"}, {"test": "datum.st=='borderline'", "value": "#f4ee3c"}], "value": "#3db54a"}}},
{"data": {"name": "panels"}, "transform": [{"filter": "datum.p=='a'"}], "mark": {"type": "text", "align": "left", "fontSize": 11, "fontWeight": "bold", "baseline": "middle", "color": "#262626"},
"encoding": {"x": {"datum": -1.09, "type": "quantitative", "scale": {"domain": [-1.112, 5.382], "nice": false, "zero": false}, "axis": null},
"y": {"datum": 8.78, "type": "quantitative", "scale": {"domain": [-4.93, 10.97], "reverse": true, "nice": false, "zero": false}, "axis": null},
"text": {"field": "subject", "type": "nominal"}}},
{"data": {"name": "panels"}, "transform": [{"filter": "datum.p=='a'"}], "mark": {"type": "point", "shape": "circle", "size": 616, "filled": true, "fill": "#ffffff", "stroke": "#000000", "strokeWidth": 1, "opacity": 1},
"encoding": {"x": {"datum": 5.107, "type": "quantitative", "scale": {"domain": [-1.112, 5.382], "nice": false, "zero": false}, "axis": null},
"y": {"datum": 8.8, "type": "quantitative", "scale": {"domain": [-4.93, 10.97], "reverse": true, "nice": false, "zero": false}, "axis": null}}},
{"data": {"name": "panels"}, "transform": [{"filter": "datum.p=='a'"}], "mark": {"type": "text", "font": "Liberation Serif", "fontSize": 20, "baseline": "middle", "dy": -1, "color": "#000000"},
"encoding": {"x": {"datum": 5.107, "type": "quantitative", "scale": {"domain": [-1.112, 5.382], "nice": false, "zero": false}, "axis": null},
"y": {"datum": 8.8, "type": "quantitative", "scale": {"domain": [-4.93, 10.97], "reverse": true, "nice": false, "zero": false}, "axis": null},
"text": {"field": "p", "type": "nominal"}}}
]}
], "spacing": 0},
{"vconcat": [
{"width": 568, "height": 292, "view": {"fill": "#000000", "stroke": null},
"layer": [
{"data": {"name": "env"}, "transform": [{"filter": "datum.p=='b'"}], "mark": {"type": "rect"},
"encoding": {"x": {"field": "t0", "type": "quantitative", "scale": {"domain": [-0.406, 4.503], "nice": false, "zero": false},
"axis": {"orient": "bottom", "offset": -28, "domain": false, "grid": false, "values": [0, 0.5, 1, 1.5, 2, 2.5, 3, 3.5, 4, 4.5], "tickColor": "#9a9a9a", "tickSize": 4, "tickWidth": 1.5, "labelExpr": "datum.value % 1 === 0 ? format(datum.value, '.1f') : ''", "labelColor": "#e0e0e0", "labelFont": "Liberation Sans", "labelFontSize": 10, "labelFontStyle": "italic", "labelFontWeight": "bold", "labelPadding": 1, "labelFlush": false, "labelOverlap": false, "title": "Seconds", "titleColor": "#d0d0d0", "titleFont": "Liberation Sans", "titleFontSize": 10, "titleFontStyle": "italic", "titleFontWeight": "bold", "titleX": 562, "titleAlign": "right", "titlePadding": 1}},
"x2": {"field": "t1"},
"y": {"field": "lo", "type": "quantitative", "scale": {"domain": [0, 4.5], "nice": false, "zero": false}, "axis": null}, "y2": {"field": "hi"},
"color": {"condition": {"test": "indexof(datum.c,'TA')==0", "value": "#7dcb55"}, "value": "#5ccfe6"}}},
{"data": {"name": "sb"}, "mark": {"type": "rule", "strokeWidth": 1},
"encoding": {"x": {"field": "t", "type": "quantitative", "scale": {"domain": [-0.406, 4.503], "nice": false, "zero": false}},
"y": {"field": "lo", "type": "quantitative", "scale": {"domain": [0, 4.5], "nice": false, "zero": false}, "axis": null}, "y2": {"field": "hi"},
"color": {"condition": {"test": "indexof(datum.c,'TA')==0", "value": "#7dcb55"}, "value": "#5ccfe6"}}},
{"data": {"name": "win"}, "transform": [{"filter": "datum.p=='b'"}], "mark": {"type": "rect", "fillOpacity": 0, "strokeWidth": 2},
"encoding": {"x": {"field": "t0", "type": "quantitative", "scale": {"domain": [-0.406, 4.503], "nice": false, "zero": false}}, "x2": {"field": "t1"},
"y": {"datum": 0.43, "type": "quantitative", "scale": {"domain": [0, 4.5], "nice": false, "zero": false}, "axis": null}, "y2": {"datum": 4.47},
"stroke": {"condition": [{"test": "datum.w==1", "value": "#c23fc6"}, {"test": "datum.w==2", "value": "#6ec24c"}], "value": "#e3d24c"}}},
{"data": {"name": "win"}, "transform": [{"filter": "datum.p=='b'"}, {"fold": ["t0", "t1"], "as": ["k", "tv"]}, {"aggregate": [{"op": "mean", "field": "tv", "as": "tm"}], "groupby": ["w"]}],
"mark": {"type": "text", "fontSize": 11, "fontWeight": "bold", "baseline": "middle"},
"encoding": {"x": {"field": "tm", "type": "quantitative", "scale": {"domain": [-0.406, 4.503], "nice": false, "zero": false}},
"y": {"datum": 0.555, "type": "quantitative", "scale": {"domain": [0, 4.5], "nice": false, "zero": false}, "axis": null},
"text": {"field": "w", "type": "nominal"},
"color": {"condition": [{"test": "datum.w==1", "value": "#c23fc6"}, {"test": "datum.w==2", "value": "#6ec24c"}], "value": "#e3d24c"}}},
{"data": {"name": "panels"}, "transform": [{"filter": "datum.p=='b'"}], "mark": {"type": "rule", "color": "#ffffff", "strokeWidth": 2.5},
"encoding": {"x": {"datum": 0.147, "type": "quantitative", "scale": {"domain": [-0.406, 4.503], "nice": false, "zero": false}}, "x2": {"datum": 0.78},
"y": {"datum": 4.47, "type": "quantitative", "scale": {"domain": [0, 4.5], "nice": false, "zero": false}, "axis": null}}},
{"data": {"name": "panels"}, "transform": [{"filter": "datum.p=='b'"}], "mark": {"type": "rule", "color": "#858585", "strokeWidth": 2},
"encoding": {"x": {"datum": 0, "type": "quantitative", "scale": {"domain": [-0.406, 4.503], "nice": false, "zero": false}},
"y": {"datum": 0.43, "type": "quantitative", "scale": {"domain": [0, 4.5], "nice": false, "zero": false}, "axis": null}, "y2": {"datum": 4.47}}},
{"data": {"name": "panels"}, "transform": [{"filter": "datum.p=='b'"}], "mark": {"type": "rule", "color": "#858585", "strokeWidth": 1.5},
"encoding": {"x": {"datum": 0, "type": "quantitative", "scale": {"domain": [-0.406, 4.503], "nice": false, "zero": false}},
"x2": {"datum": 4.503},
"y": {"datum": 0.43, "type": "quantitative", "scale": {"domain": [0, 4.5], "nice": false, "zero": false}, "axis": null}}},
{"data": {"name": "env"}, "transform": [{"filter": "datum.p=='b'"}, {"fold": ["lo", "hi"], "as": ["k", "yv"]}, {"aggregate": [{"op": "mean", "field": "yv", "as": "yc"}], "groupby": ["c"]}],
"mark": {"type": "text", "align": "left", "dx": 2, "fontSize": 11, "fontWeight": "bold", "baseline": "middle"},
"encoding": {"x": {"datum": -0.406, "type": "quantitative", "scale": {"domain": [-0.406, 4.503], "nice": false, "zero": false}},
"y": {"field": "yc", "type": "quantitative", "scale": {"domain": [0, 4.5], "nice": false, "zero": false}, "axis": null},
"text": {"field": "c", "type": "nominal"},
"color": {"condition": {"test": "indexof(datum.c,'TA')==0", "value": "#56b94c"}, "value": "#3fbccf"}}},
{"data": {"name": "panels"}, "transform": [{"filter": "datum.p=='b'"}], "mark": {"type": "text", "align": "left", "dx": 1, "fontSize": 11, "fontWeight": "bold", "baseline": "middle", "color": "#ffffff"},
"encoding": {"x": {"datum": -0.406, "type": "quantitative", "scale": {"domain": [-0.406, 4.503], "nice": false, "zero": false}},
"y": {"datum": 0.085, "type": "quantitative", "scale": {"domain": [0, 4.5], "nice": false, "zero": false}, "axis": null},
"text": {"field": "subject", "type": "nominal"}}}
]},
{"width": 568, "height": 203, "view": {"fill": "#c8c8c8", "stroke": "#3a3a3a", "strokeWidth": 1},
"layer": [
{"data": {"name": "win"}, "transform": [{"filter": "datum.p=='b'"}], "mark": {"type": "rect", "width": 79, "fillOpacity": 0, "strokeWidth": 1.5},
"encoding": {"x": {"field": "w", "type": "quantitative", "scale": {"domain": [-1.087, 5.28], "nice": false, "zero": false}, "axis": null},
"y": {"datum": 0.49, "type": "quantitative", "scale": {"domain": [-4.855, 10.64], "reverse": true, "nice": false, "zero": false}, "axis": null}, "y2": {"datum": 6.52},
"stroke": {"condition": [{"test": "datum.w==1", "value": "#d27ad2"}, {"test": "datum.w==2", "value": "#84cc64"}], "value": "#e8e274"}}},
{"data": {"name": "win"}, "transform": [{"filter": "datum.p=='b'"}], "mark": {"type": "text", "dx": -4, "fontSize": 11, "fontWeight": "bold", "baseline": "middle", "color": "#262626"},
"encoding": {"x": {"field": "w", "type": "quantitative", "scale": {"domain": [-1.087, 5.28], "nice": false, "zero": false}, "axis": null},
"y": {"datum": -1.98, "type": "quantitative", "scale": {"domain": [-4.855, 10.64], "reverse": true, "nice": false, "zero": false}, "axis": null},
"text": {"field": "name", "type": "nominal"}}},
{"data": {"name": "win"}, "transform": [{"filter": "datum.p=='b'"}], "mark": {"type": "text", "dx": -24, "fontSize": 11, "fontWeight": "bold", "baseline": "middle", "color": "#262626"},
"encoding": {"x": {"field": "w", "type": "quantitative", "scale": {"domain": [-1.087, 5.28], "nice": false, "zero": false}, "axis": null},
"y": {"datum": -0.5, "type": "quantitative", "scale": {"domain": [-4.855, 10.64], "reverse": true, "nice": false, "zero": false}, "axis": null},
"text": {"value": "µV"}}},
{"data": {"name": "win"}, "transform": [{"filter": "datum.p=='b'"}], "mark": {"type": "text", "dx": 14, "fontSize": 11, "fontWeight": "bold", "baseline": "middle", "color": "#262626"},
"encoding": {"x": {"field": "w", "type": "quantitative", "scale": {"domain": [-1.087, 5.28], "nice": false, "zero": false}, "axis": null},
"y": {"datum": -0.5, "type": "quantitative", "scale": {"domain": [-4.855, 10.64], "reverse": true, "nice": false, "zero": false}, "axis": null},
"text": {"value": "ms"}}},
{"data": {"name": "tab"}, "transform": [{"filter": "datum.p=='b'"}], "mark": {"type": "text", "dx": -16, "fontSize": 11, "fontWeight": "bold", "baseline": "middle", "color": "#262626"},
"encoding": {"x": {"field": "w", "type": "quantitative", "scale": {"domain": [-1.087, 5.28], "nice": false, "zero": false}, "axis": null},
"y": {"field": "r", "type": "quantitative", "scale": {"domain": [-4.855, 10.64], "reverse": true, "nice": false, "zero": false}, "axis": null},
"text": {"field": "uv", "type": "quantitative", "format": ".1f"}}},
{"data": {"name": "tab"}, "transform": [{"filter": "datum.p=='b'"}], "mark": {"type": "text", "align": "right", "dx": 37, "fontSize": 11, "fontWeight": "bold", "baseline": "middle", "color": "#262626"},
"encoding": {"x": {"field": "w", "type": "quantitative", "scale": {"domain": [-1.087, 5.28], "nice": false, "zero": false}, "axis": null},
"y": {"field": "r", "type": "quantitative", "scale": {"domain": [-4.855, 10.64], "reverse": true, "nice": false, "zero": false}, "axis": null},
"text": {"field": "ms", "type": "quantitative", "format": "d"}}},
{"data": {"name": "ave"}, "transform": [{"filter": "datum.p=='b'"}], "mark": {"type": "text", "align": "left", "fontSize": 11, "fontWeight": "bold", "baseline": "middle", "color": "#262626"},
"encoding": {"x": {"datum": -1.056, "type": "quantitative", "scale": {"domain": [-1.087, 5.28], "nice": false, "zero": false}, "axis": null},
"y": {"field": "r", "type": "quantitative", "scale": {"domain": [-4.855, 10.64], "reverse": true, "nice": false, "zero": false}, "axis": null},
"text": {"field": "m", "type": "nominal"}}},
{"data": {"name": "panels"}, "transform": [{"filter": "datum.p=='b'"}], "mark": {"type": "text", "fontSize": 11, "fontWeight": "bold", "baseline": "middle", "color": "#262626"},
"encoding": {"x": {"datum": -0.184, "type": "quantitative", "scale": {"domain": [-1.087, 5.28], "nice": false, "zero": false}, "axis": null},
"y": {"datum": -0.5, "type": "quantitative", "scale": {"domain": [-4.855, 10.64], "reverse": true, "nice": false, "zero": false}, "axis": null},
"text": {"value": "Ave. µV"}}},
{"data": {"name": "ave"}, "transform": [{"filter": "datum.p=='b'"}], "mark": {"type": "text", "fontSize": 11, "fontWeight": "bold", "baseline": "middle"},
"encoding": {"x": {"datum": -0.184, "type": "quantitative", "scale": {"domain": [-1.087, 5.28], "nice": false, "zero": false}, "axis": null},
"y": {"field": "r", "type": "quantitative", "scale": {"domain": [-4.855, 10.64], "reverse": true, "nice": false, "zero": false}, "axis": null},
"text": {"field": "ave", "type": "quantitative", "format": ".1f"},
"color": {"condition": [{"test": "datum.st=='high'", "value": "#e8392c"}, {"test": "datum.st=='borderline'", "value": "#f4ee3c"}], "value": "#3db54a"}}},
{"data": {"name": "panels"}, "transform": [{"filter": "datum.p=='b'"}], "mark": {"type": "text", "align": "left", "fontSize": 11, "fontWeight": "bold", "baseline": "middle", "color": "#262626"},
"encoding": {"x": {"datum": -1.056, "type": "quantitative", "scale": {"domain": [-1.087, 5.28], "nice": false, "zero": false}, "axis": null},
"y": {"datum": 8.63, "type": "quantitative", "scale": {"domain": [-4.855, 10.64], "reverse": true, "nice": false, "zero": false}, "axis": null},
"text": {"field": "subject", "type": "nominal"}}},
{"data": {"name": "panels"}, "transform": [{"filter": "datum.p=='b'"}], "mark": {"type": "point", "shape": "circle", "size": 616, "filled": true, "fill": "#ffffff", "stroke": "#000000", "strokeWidth": 1, "opacity": 1},
"encoding": {"x": {"datum": 5.076, "type": "quantitative", "scale": {"domain": [-1.087, 5.28], "nice": false, "zero": false}, "axis": null},
"y": {"datum": 8.63, "type": "quantitative", "scale": {"domain": [-4.855, 10.64], "reverse": true, "nice": false, "zero": false}, "axis": null}}},
{"data": {"name": "panels"}, "transform": [{"filter": "datum.p=='b'"}], "mark": {"type": "text", "font": "Liberation Serif", "fontSize": 20, "baseline": "middle", "dy": -1, "color": "#000000"},
"encoding": {"x": {"datum": 5.076, "type": "quantitative", "scale": {"domain": [-1.087, 5.28], "nice": false, "zero": false}, "axis": null},
"y": {"datum": 8.63, "type": "quantitative", "scale": {"domain": [-4.855, 10.64], "reverse": true, "nice": false, "zero": false}, "axis": null},
"text": {"field": "p", "type": "nominal"}}}
]}
], "spacing": 0}
],
"spacing": 66
}
